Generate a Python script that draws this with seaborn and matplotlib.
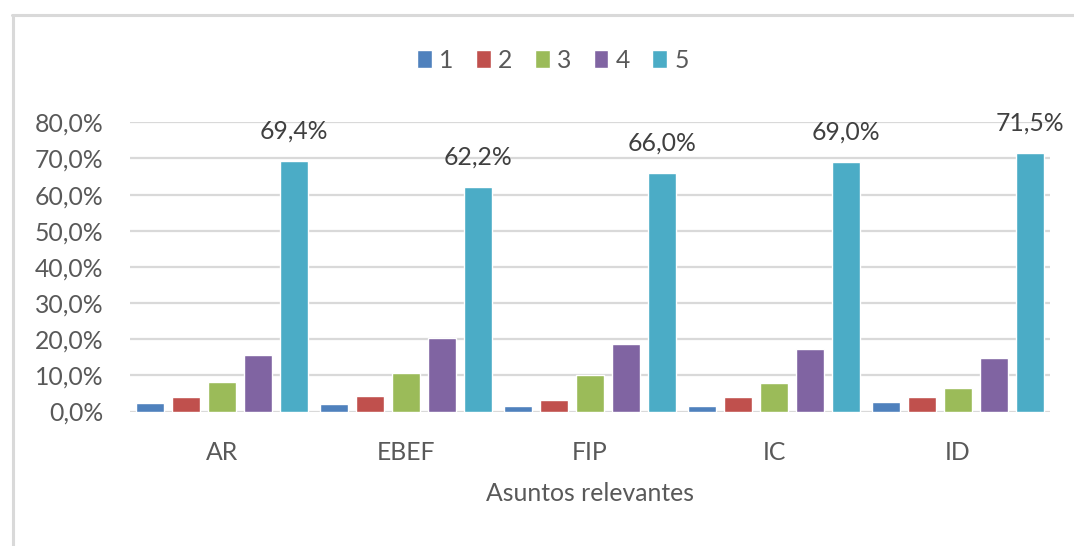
import matplotlib
matplotlib.use("Agg")
import matplotlib.pyplot as plt
from matplotlib.lines import Line2D
import seaborn as sns
import pandas as pd

categories = ["AR", "EBEF", "FIP", "IC", "ID"]
series_names = ["1", "2", "3", "4", "5"]
s1 = [2.4, 2.1, 1.4, 1.4, 2.6]
s2 = [3.9, 4.2, 3.3, 3.9, 3.9]
s3 = [8.1, 10.6, 10.1, 7.9, 6.6]
s4 = [15.7, 20.3, 18.7, 17.3, 14.7]
s5 = [69.4, 62.2, 66.0, 69.0, 71.5]
colors = ["#4f81bd", "#c0504d", "#9bbb59", "#8064a2", "#4bacc6"]
yticks = [0, 10, 20, 30, 40, 50, 60, 70, 80]

rows = []
for name, vals in zip(series_names, [s1, s2, s3, s4, s5]):
    for c, v in zip(categories, vals):
        rows.append({"cat": c, "serie": name, "val": v})
df = pd.DataFrame(rows)

sns.set_theme(style="white")
plt.rcParams["font.family"] = ["Lato", "DejaVu Sans"]
txt = "#595959"
fs = 17.8

fig = plt.figure(figsize=(10.74, 5.46), dpi=100)
ax = fig.add_axes([130 / 1074, 1 - 411.5 / 546, 920 / 1074, (411.5 - 122.3) / 546])

sns.barplot(data=df, x="cat", y="val", hue="serie", order=categories,
            hue_order=series_names, palette=colors, width=0.98, gap=0.22,
            saturation=1, ax=ax, legend=True, zorder=3)

ax.set_ylim(0, 80)
ax.set_xlim(-0.5, 4.5)
ax.set_yticks(yticks)
ax.set_yticklabels([f"{v:.1f}".replace(".", ",") + "%" for v in yticks])
ax.grid(axis="y", color="#d9d9d9", linewidth=1.6, zorder=0)
ax.set_axisbelow(True)
for sp in ax.spines.values():
    sp.set_visible(False)
ax.tick_params(axis="both", length=0, labelsize=fs, labelcolor=txt)
ax.tick_params(axis="y", pad=19)
ax.tick_params(axis="x", pad=21)
ax.set_ylabel("")
ax.set_xlabel("Asuntos relevantes", fontsize=fs, color=txt, labelpad=13)

# data labels on series 5
cont = ax.containers[4]
ax.bar_label(cont, labels=[f"{v:.1f}".replace(".", ",") + "%" for v in s5],
             padding=13, fontsize=fs, color="#404040")

# legend
handles, labels = ax.get_legend_handles_labels()
ax.legend_.remove()
fig.legend(handles, labels, loc="center", bbox_to_anchor=(553 / 1074, 1 - 60 / 546),
           ncol=5, frameon=False, fontsize=fs, labelcolor=txt,
           handlelength=0.6, handleheight=0.75, handletextpad=0.3,
           columnspacing=0.9)

# chart border remnants
fig.add_artist(Line2D([12 / 1074, 1.0], [1 - 15 / 546, 1 - 15 / 546],
                      transform=fig.transFigure, color="#d9d9d9", linewidth=2.2))
fig.add_artist(Line2D([13 / 1074, 13 / 1074], [0, 1 - 15 / 546],
                      transform=fig.transFigure, color="#d9d9d9", linewidth=2.2))

fig.savefig("out.png", dpi=100, facecolor="white")
